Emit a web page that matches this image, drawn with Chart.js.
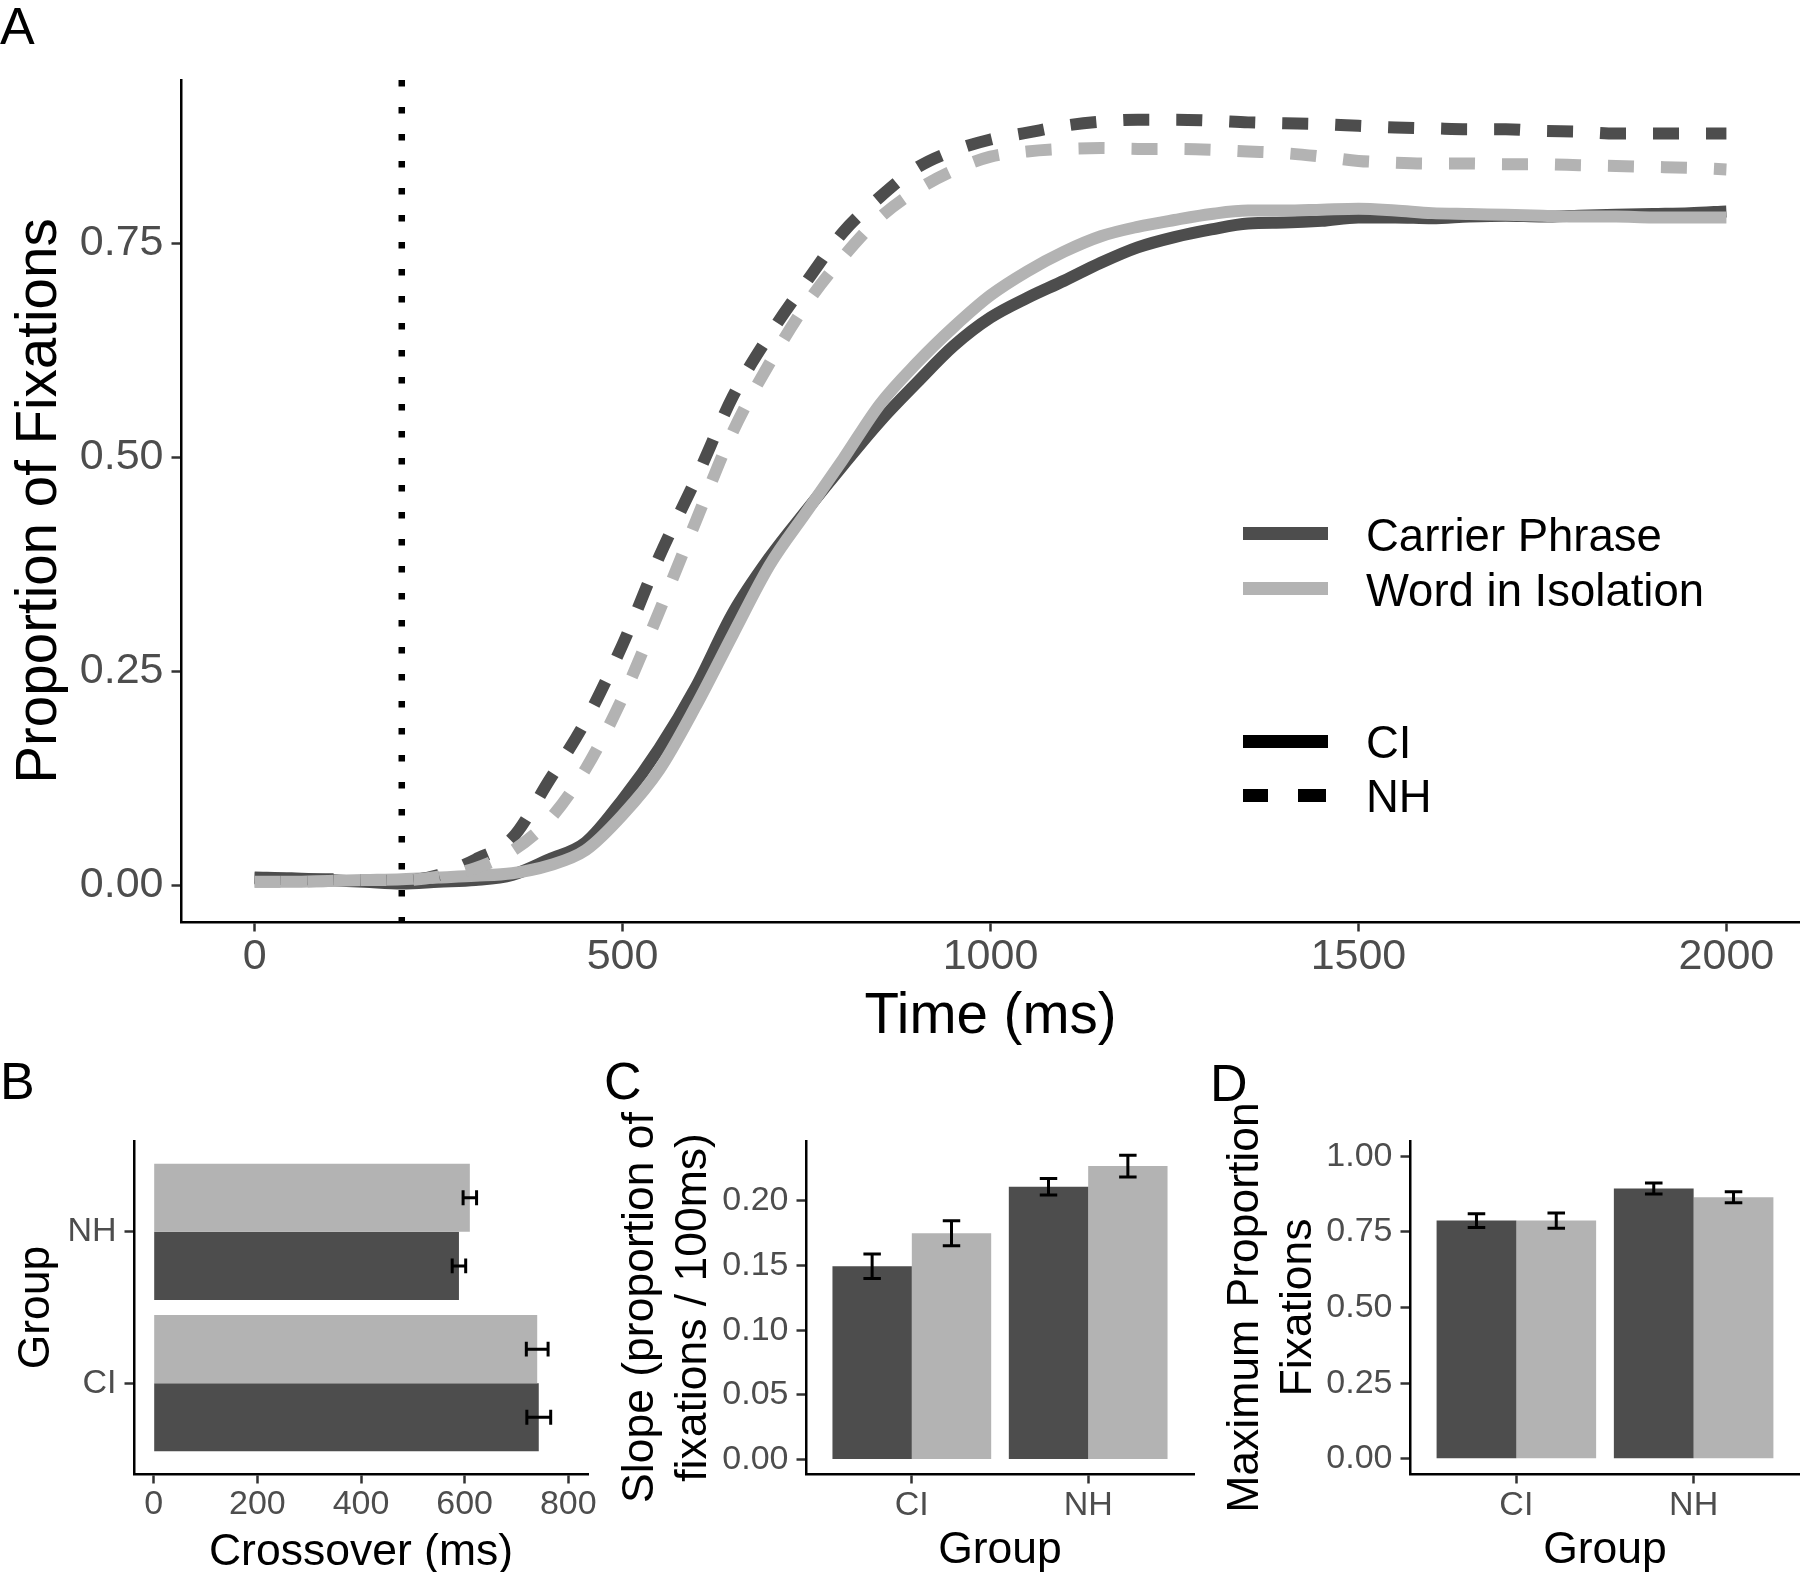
<!DOCTYPE html>
<html>
<head>
<meta charset="utf-8">
<script src="https://cdn.jsdelivr.net/npm/chart.js@4.4.1/dist/chart.umd.min.js"></script>
<style>
  html, body { margin: 0; padding: 0; background: #fff; }
  body { width: 1800px; height: 1572px; position: relative; overflow: hidden;
         font-family: "Liberation Sans", Arial, sans-serif; }
  canvas { position: absolute; display: block; }
  .tag { position: absolute; font-size: 52px; line-height: 52px; color: #000; }
  .leg { position: absolute; font-size: 45.5px; line-height: 45.5px; color: #000; white-space: nowrap; }
  .key { position: absolute; height: 13px; }
</style>
</head>
<body>
<canvas id="chartA" width="1800" height="1060" style="left:0;top:0"></canvas>
<canvas id="chartB" width="640" height="540" style="left:0;top:1040px"></canvas>
<canvas id="chartC" width="620" height="540" style="left:600px;top:1040px"></canvas>
<canvas id="chartD" width="600" height="540" style="left:1200px;top:1040px"></canvas>

<div class="tag" style="left:0;top:0">A</div>
<div class="tag" style="left:0;top:1055px">B</div>
<div class="tag" style="left:604px;top:1055px">C</div>
<div class="tag" style="left:1210px;top:1057px">D</div>

<!-- legend of panel A -->
<div class="key" style="left:1243px;top:527px;width:85px;background:#4D4D4D"></div>
<div class="leg" style="left:1366px;top:513px">Carrier Phrase</div>
<div class="key" style="left:1243px;top:582px;width:85px;background:#B3B3B3"></div>
<div class="leg" style="left:1366px;top:568px">Word in Isolation</div>
<div class="key" style="left:1243px;top:735px;width:85px;background:#000"></div>
<div class="leg" style="left:1366px;top:720px">CI</div>
<div class="key" style="left:1243px;top:789px;width:25px;background:#000"></div>
<div class="key" style="left:1298px;top:789px;width:28px;background:#000"></div>
<div class="leg" style="left:1366px;top:774px">NH</div>

<script>
// panel A: proportion of fixations over time
const timeMs = [0, 50, 100, 150, 200, 250, 300, 350, 400, 450, 500, 550, 600, 650, 700, 750,
  800, 850, 900, 950, 1000, 1050, 1100, 1150, 1200, 1250, 1300, 1350, 1400, 1450, 1500,
  1550, 1600, 1650, 1700, 1750, 1800, 1850, 1900, 1950, 2000];
const ciCarrier = [0.009, 0.008, 0.006, 0.004, 0.002, 0.004, 0.006, 0.012, 0.030, 0.050, 0.100,
  0.160, 0.232, 0.318, 0.383, 0.438, 0.491, 0.542, 0.587, 0.630, 0.663, 0.686, 0.706, 0.727,
  0.745, 0.757, 0.766, 0.773, 0.774, 0.776, 0.780, 0.780, 0.779, 0.781, 0.782, 0.781, 0.782,
  0.783, 0.784, 0.785, 0.787];
const ciWord = [0.004, 0.004, 0.005, 0.006, 0.007, 0.009, 0.011, 0.014, 0.023, 0.041, 0.082,
  0.135, 0.210, 0.293, 0.374, 0.436, 0.498, 0.562, 0.610, 0.652, 0.689, 0.717, 0.740, 0.758,
  0.769, 0.777, 0.784, 0.788, 0.788, 0.789, 0.790, 0.788, 0.785, 0.784, 0.783, 0.782, 0.781,
  0.781, 0.780, 0.780, 0.780];
const nhCarrier = [0.008, 0.007, 0.007, 0.006, 0.005, 0.012, 0.030, 0.055, 0.122, 0.192, 0.281,
  0.384, 0.475, 0.571, 0.643, 0.705, 0.763, 0.804, 0.838, 0.858, 0.871, 0.879, 0.887, 0.892,
  0.894, 0.894, 0.893, 0.891, 0.890, 0.889, 0.887, 0.885, 0.884, 0.883, 0.883, 0.881, 0.880,
  0.878, 0.878, 0.878, 0.878];
const nhWord = [0.004, 0.004, 0.005, 0.006, 0.006, 0.010, 0.020, 0.040, 0.076, 0.136, 0.219,
  0.320, 0.426, 0.530, 0.610, 0.679, 0.734, 0.780, 0.812, 0.835, 0.851, 0.857, 0.860, 0.861,
  0.860, 0.860, 0.859, 0.857, 0.855, 0.851, 0.846, 0.844, 0.843, 0.843, 0.842, 0.842, 0.841,
  0.840, 0.839, 0.838, 0.836];
const onsetMs = 200;
const timeTicks = [0, 500, 1000, 1500, 2000];
const propTicks = [0, 0.25, 0.5, 0.75];

// panels B-D: per group means and standard errors
const groups = ['CI', 'NH'];
const crossCarrier = [743, 589];
const crossCarrierSe = [23, 13];
const crossWord = [740, 610];
const crossWordSe = [21, 13];
const crossTicks = [0, 200, 400, 600, 800];

const slopeCarrier = [0.1495, 0.211];
const slopeCarrierSe = [0.0095, 0.0063];
const slopeWord = [0.175, 0.227];
const slopeWordSe = [0.0096, 0.0084];
const slopeTicks = [0, 0.05, 0.10, 0.15, 0.20];

const maxCarrier = [0.787, 0.893];
const maxCarrierSe = [0.023, 0.018];
const maxWord = [0.787, 0.864];
const maxWordSe = [0.025, 0.018];
const maxTicks = [0, 0.25, 0.5, 0.75, 1.0];

const FONT = '"Liberation Sans", Arial, sans-serif';
const CARRIER = '#4D4D4D';
const WORD = '#B3B3B3';

Chart.defaults.font.family = FONT;
Chart.defaults.animation = false;

function axisStyle(tickSize, tickPad) {
  return {
    border: { display: true, color: '#000', width: 2.5 },
    grid: { display: true, drawOnChartArea: false, drawTicks: true, tickLength: 9.5,
            tickWidth: 2.5, tickColor: '#333333' },
    ticks: { color: '#4D4D4D', font: { size: tickSize }, padding: tickPad,
             maxRotation: 0, autoSkip: false }
  };
}

function fixedTicks(values) {
  return scale => { scale.ticks = values.map(v => ({ value: v })); };
}

// dotted vertical line at stimulus onset
const onsetLine = {
  id: 'onsetLine',
  beforeDatasetsDraw(chart) {
    const { ctx, chartArea, scales } = chart;
    const x = scales.x.getPixelForValue(onsetMs);
    ctx.save();
    ctx.strokeStyle = '#000';
    ctx.lineWidth = 6.5;
    ctx.setLineDash([6.5, 20.5]);
    ctx.beginPath();
    ctx.moveTo(x, chartArea.top);
    ctx.lineTo(x, chartArea.bottom);
    ctx.stroke();
    ctx.restore();
  }
};

// error bars from dataset.errors
const errorBars = {
  id: 'errorBars',
  afterDatasetsDraw(chart) {
    const { ctx } = chart;
    const horiz = chart.options.indexAxis === 'y';
    const vScale = horiz ? chart.scales.x : chart.scales.y;
    chart.data.datasets.forEach((ds, di) => {
      const meta = chart.getDatasetMeta(di);
      meta.data.forEach((bar, i) => {
        const v = horiz ? ds.data[i].x : ds.data[i].y;
        const lo = vScale.getPixelForValue(v - ds.errors[i]);
        const hi = vScale.getPixelForValue(v + ds.errors[i]);
        const c = horiz ? bar.y : bar.x;
        const half = (horiz ? bar.height : bar.width) * 0.11;
        ctx.save();
        ctx.strokeStyle = '#000';
        ctx.lineWidth = 3;
        ctx.beginPath();
        if (horiz) {
          ctx.moveTo(lo, c); ctx.lineTo(hi, c);
          ctx.moveTo(lo, c - half); ctx.lineTo(lo, c + half);
          ctx.moveTo(hi, c - half); ctx.lineTo(hi, c + half);
        } else {
          ctx.moveTo(c, lo); ctx.lineTo(c, hi);
          ctx.moveTo(c - half, lo); ctx.lineTo(c + half, lo);
          ctx.moveTo(c - half, hi); ctx.lineTo(c + half, hi);
        }
        ctx.stroke();
        ctx.restore();
      });
    });
  }
};

function curve(values, color, dashed) {
  return {
    data: timeMs.map((t, i) => ({ x: t, y: values[i] })),
    borderColor: color,
    borderWidth: 12,
    borderDash: dashed ? [26, 27] : [],
    borderCapStyle: 'butt',
    borderJoinStyle: 'round',
    cubicInterpolationMode: 'monotone',
    pointRadius: 0,
    fill: false
  };
}

// ---------- panel A ----------
const ax = axisStyle(43, 0);
const ay = axisStyle(43, 8);
new Chart(document.getElementById('chartA'), {
  type: 'line',
  data: {
    datasets: [
      curve(nhWord, WORD, true),
      curve(nhCarrier, CARRIER, true),
      curve(ciWord, WORD, false),
      curve(ciCarrier, CARRIER, false)
    ]
  },
  options: {
    responsive: false,
    layout: { padding: { top: 80, left: 0, right: 0, bottom: 0 } },
    plugins: { legend: { display: false }, tooltip: { enabled: false } },
    scales: {
      x: {
        type: 'linear', min: -100, max: 2100,
        afterBuildTicks: fixedTicks(timeTicks),
        afterFit: s => { s.height = 138; },
        border: ax.border, grid: ax.grid,
        ticks: Object.assign({}, ax.ticks, { callback: v => String(v) }),
        title: { display: true, text: 'Time (ms)', color: '#000',
                 font: { size: 56.5 }, padding: { top: 0, bottom: 9 } }
      },
      y: {
        type: 'linear', min: -0.043, max: 0.9405,
        afterBuildTicks: fixedTicks(propTicks),
        afterFit: s => { s.width = 181; },
        border: ay.border, grid: ay.grid,
        ticks: Object.assign({}, ay.ticks, { callback: v => v.toFixed(2) }),
        title: { display: true, text: 'Proportion of Fixations', color: '#000',
                 font: { size: 56.5 }, padding: { top: 7, bottom: 0 } }
      }
    }
  },
  plugins: [onsetLine]
});

// ---------- bar panels ----------
function barPanel(id, cfg) {
  const horiz = cfg.horizontal;
  const point = (v, i) => horiz ? { x: v, y: i + 1 } : { x: i + 1, y: v };
  const sets = [
    { label: 'Carrier Phrase', data: cfg.carrier.map(point), errors: cfg.carrierSe,
      backgroundColor: CARRIER },
    { label: 'Word in Isolation', data: cfg.word.map(point), errors: cfg.wordSe,
      backgroundColor: WORD }
  ];
  if (horiz) sets.reverse(); // light bar sits above the dark one after the flip
  sets.forEach(s => { s.borderWidth = 0; s.categoryPercentage = 0.9; s.barPercentage = 1.0; });

  const cat = axisStyle(34, horiz ? 8 : 2);
  const val = axisStyle(34, horiz ? 1 : 8);
  const catScale = {
    type: 'linear', min: 0.4, max: 2.6, offset: false,
    afterBuildTicks: fixedTicks([1, 2]),
    border: cat.border, grid: Object.assign({ offset: false }, cat.grid),
    ticks: Object.assign({}, cat.ticks, { callback: v => groups[v - 1] }),
    title: { display: true, text: 'Group', color: '#000', font: { size: 44.5 },
             padding: horiz ? { top: 10, bottom: 0 } : { top: 0, bottom: 3 } }
  };
  const valScale = {
    type: 'linear', min: cfg.min, max: cfg.max,
    afterBuildTicks: fixedTicks(cfg.ticks),
    border: val.border, grid: val.grid,
    ticks: Object.assign({}, val.ticks, { callback: cfg.fmt }),
    title: { display: true, text: cfg.title, color: '#000', font: { size: 44.5 },
             padding: horiz ? { top: 0, bottom: 1 } : { top: cfg.titlePad, bottom: 0 } }
  };
  const xs = horiz ? valScale : catScale;
  const ys = horiz ? catScale : valScale;
  xs.afterFit = s => { s.height = 106; };
  ys.afterFit = s => { s.width = cfg.yWidth; };

  new Chart(document.getElementById(id), {
    type: 'bar',
    data: { datasets: sets },
    options: {
      responsive: false,
      indexAxis: horiz ? 'y' : 'x',
      layout: { padding: { top: 101, left: 0, right: cfg.padRight, bottom: 0 } },
      plugins: { legend: { display: false }, tooltip: { enabled: false } },
      scales: { x: xs, y: ys }
    },
    plugins: [errorBars]
  });
}

barPanel('chartB', {
  horizontal: true,
  carrier: crossCarrier, carrierSe: crossCarrierSe,
  word: crossWord, wordSe: crossWordSe,
  min: -38, max: 838, ticks: crossTicks, fmt: v => String(v),
  title: 'Crossover (ms)', yWidth: 134, padRight: 52
});

barPanel('chartC', {
  horizontal: false,
  carrier: slopeCarrier, carrierSe: slopeCarrierSe,
  word: slopeWord, wordSe: slopeWordSe,
  min: -0.0113, max: 0.2464, ticks: slopeTicks, fmt: v => v.toFixed(2),
  title: ['Slope (proportion of', 'fixations / 100ms)'], titlePad: 14,
  yWidth: 206, padRight: 26
});

barPanel('chartD', {
  horizontal: false,
  carrier: maxCarrier, carrierSe: maxCarrierSe,
  word: maxWord, wordSe: maxWordSe,
  min: -0.05, max: 1.05, ticks: maxTicks, fmt: v => v.toFixed(2),
  title: ['Maximum Proportion', 'Fixations'], titlePad: 19,
  yWidth: 210, padRight: 0
});
</script>
</body>
</html>
